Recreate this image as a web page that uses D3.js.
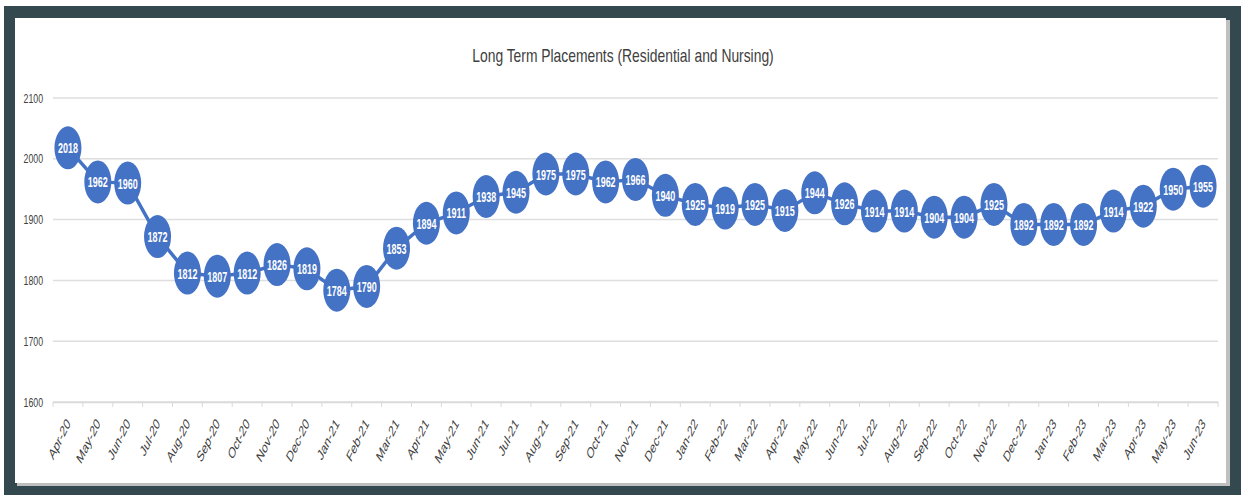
<!DOCTYPE html>
<html>
<head>
<meta charset="utf-8">
<script src="https://cdn.jsdelivr.net/npm/d3@7"></script>
<style>
  body { margin: 0; background: #fff; }
  svg { display: block; }
</style>
</head>
<body>
<svg id="chart" width="1241" height="495"></svg>
<script>
  let months = ['Apr-20','May-20','Jun-20','Jul-20','Aug-20','Sep-20','Oct-20','Nov-20','Dec-20',
    'Jan-21','Feb-21','Mar-21','Apr-21','May-21','Jun-21','Jul-21','Aug-21','Sep-21','Oct-21','Nov-21','Dec-21',
    'Jan-22','Feb-22','Mar-22','Apr-22','May-22','Jun-22','Jul-22','Aug-22','Sep-22','Oct-22','Nov-22','Dec-22',
    'Jan-23','Feb-23','Mar-23','Apr-23','May-23','Jun-23']
  let placements = [2018,1962,1960,1872,1812,1807,1812,1826,1819,
    1784,1790,1853,1894,1911,1938,1945,1975,1975,1962,1966,1940,
    1925,1919,1925,1915,1944,1926,1914,1914,1904,1904,1925,1892,
    1892,1892,1914,1922,1950,1955]
  let yTicks = [1600,1700,1800,1900,2000,2100]

  let svg = d3.select('#chart')
  let font = '"Liberation Sans", Arial, sans-serif'

  // frame
  svg.append('rect').attr('x', 4).attr('y', 6).attr('width', 1237).attr('height', 489).attr('fill', '#34484f')
  svg.append('rect').attr('x', 17).attr('y', 20).attr('width', 1213).attr('height', 466).attr('fill', '#bfbfbf')
  svg.append('rect').attr('x', 15).attr('y', 18).attr('width', 1211).attr('height', 465).attr('fill', '#fff')

  let x = d3.scaleBand().domain(months).range([53, 1218])
  let y = d3.scaleLinear().domain([1600, 2100]).range([402, 98])

  // title (condensed like the original)
  svg.append('text')
    .attr('transform', 'translate(623,62) scale(0.77,1)')
    .attr('text-anchor', 'middle')
    .attr('font-family', font).attr('font-size', 18)
    .attr('fill', '#404040')
    .text('Long Term Placements (Residential and Nursing)')

  // gridlines
  svg.append('g')
    .selectAll('line')
    .data(yTicks)
    .join('line')
    .attr('x1', 53).attr('x2', 1218)
    .attr('y1', d => y(d)).attr('y2', d => y(d))
    .attr('stroke', '#dedede').attr('stroke-width', 1.5)

  svg.append('g')
    .selectAll('text')
    .data(yTicks)
    .join('text')
    .attr('transform', d => `translate(43,${y(d) + 4.5}) scale(0.7,1)`)
    .attr('text-anchor', 'end')
    .attr('font-family', font).attr('font-size', 12.5)
    .attr('fill', '#404040')
    .text(d => d)

  // x axis
  let xAxis = svg.append('g')
    .attr('transform', `translate(0,${y(1600)})`)
    .call(d3.axisBottom(x).tickSize(0).tickFormat(''))
  xAxis.select('.domain').attr('stroke', '#d9d9d9').attr('stroke-width', 1.5)

  svg.append('g')
    .selectAll('line')
    .data(months.concat(['end']))
    .join('line')
    .attr('x1', (d, i) => 53 + i * x.step()).attr('x2', (d, i) => 53 + i * x.step())
    .attr('y1', y(1600)).attr('y2', y(1600) + 5)
    .attr('stroke', '#d9d9d9').attr('stroke-width', 1)

  svg.append('g')
    .selectAll('text')
    .data(months)
    .join('text')
    .attr('transform', d => `translate(${x(d) + x.bandwidth() / 2 + 3},${y(1600) + 22}) scale(0.62,1) rotate(-52)`)
    .attr('text-anchor', 'end')
    .attr('font-family', font).attr('font-size', 15.5)
    .attr('fill', '#404040')
    .text(d => d)

  // line and markers
  let line = d3.line()
    .x((d, i) => x(months[i]) + x.bandwidth() / 2)
    .y(d => y(d))

  svg.append('path')
    .datum(placements)
    .attr('d', line)
    .attr('fill', 'none')
    .attr('stroke', '#4472c4').attr('stroke-width', 3.5)

  let pts = svg.append('g')
    .selectAll('g')
    .data(placements)
    .join('g')
    .attr('transform', (d, i) => `translate(${x(months[i]) + x.bandwidth() / 2},${y(d)})`)

  pts.append('ellipse')
    .attr('rx', 13.5).attr('ry', 21.5)
    .attr('fill', '#4472c4')

  pts.append('text')
    .attr('text-anchor', 'middle').attr('dy', 5.5)
    .attr('font-family', font).attr('font-size', 15.5).attr('font-weight', 'bold')
    .attr('fill', '#fff')
    .attr('transform', 'scale(0.58,1)')
    .text(d => d)
</script>
</body>
</html>
